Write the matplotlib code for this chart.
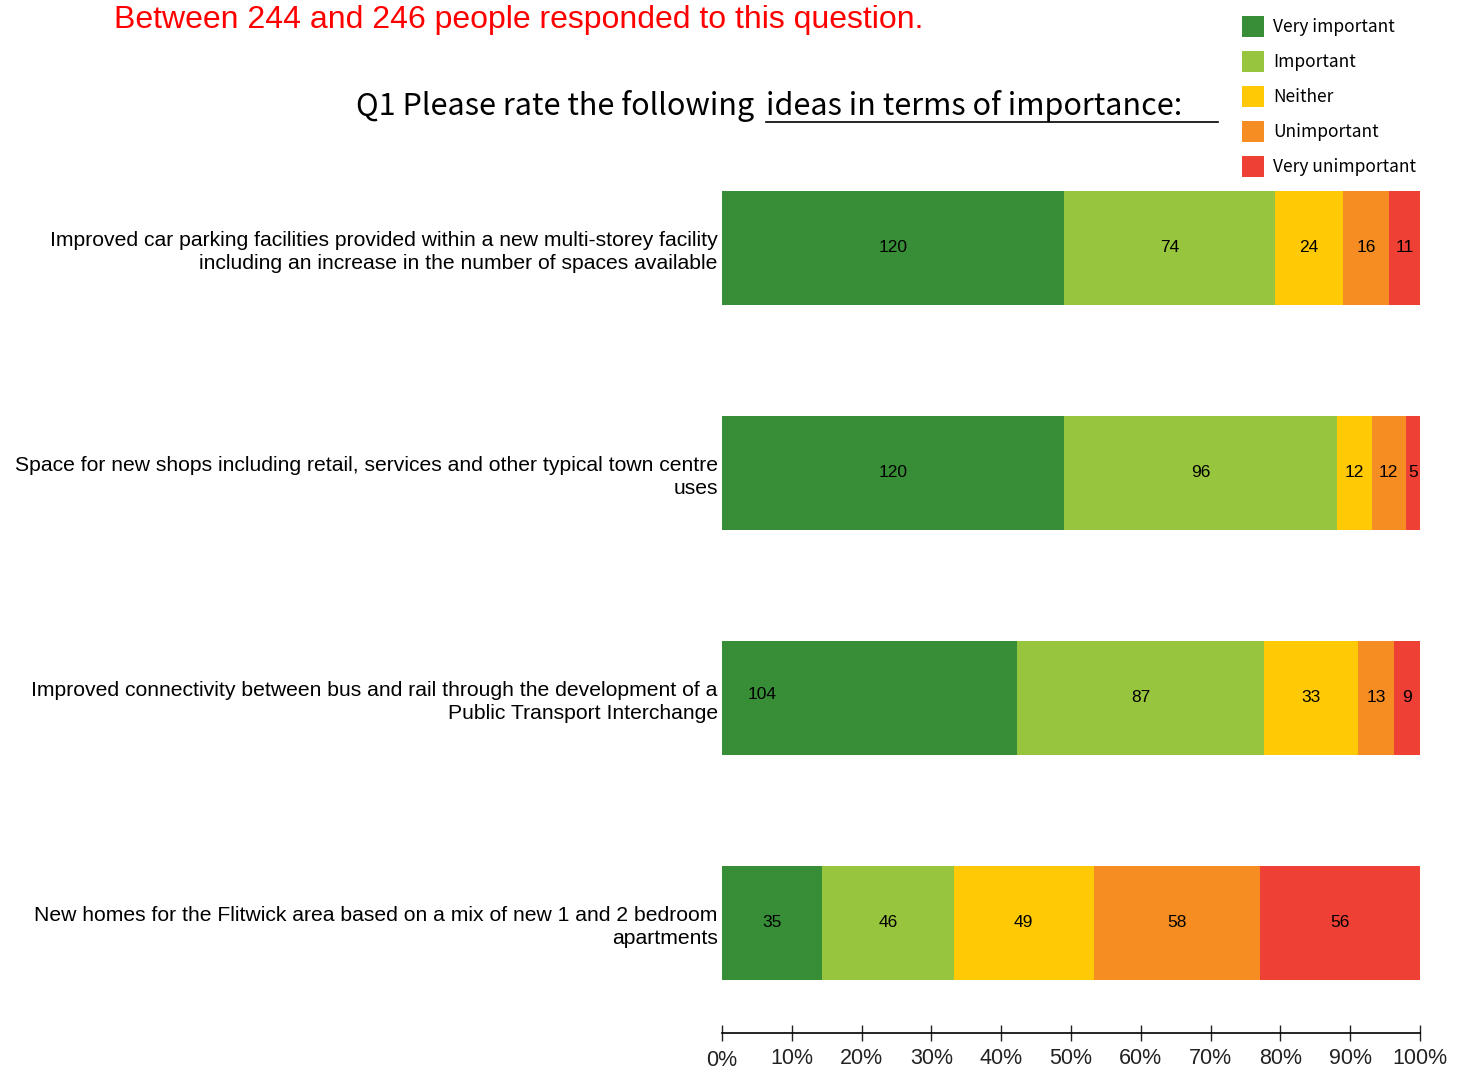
import numpy as np
import matplotlib.pyplot as plt
import matplotlib.transforms as mtransforms

# Survey responses, one row per idea
ideas = [
    "Improved car parking facilities provided within a new multi-storey facility\nincluding an increase in the number of spaces available",
    "Space for new shops including retail, services and other typical town centre\nuses",
    "Improved connectivity between bus and rail through the development of a\nPublic Transport Interchange",
    "New homes for the Flitwick area based on a mix of new 1 and 2 bedroom\napartments",
]
responses = ["Very important", "Important", "Neither", "Unimportant", "Very unimportant"]
very_important = [120, 120, 104, 35]
important = [74, 96, 87, 46]
neither = [24, 12, 33, 49]
unimportant = [16, 12, 13, 58]
very_unimportant = [11, 5, 9, 56]
tick_labels = ["0%", "10%", "20%", "30%", "40%", "50%", "60%", "70%", "80%", "90%", "100%"]

colors = ["#388e37", "#98c53e", "#ffca05", "#f68d22", "#ef4035"]

counts = np.array([very_important, important, neither, unimportant, very_unimportant], dtype=float)
shares = counts / counts.sum(axis=0)

W, H = 1466, 1068
fig = plt.figure(figsize=(W / 100, H / 100), dpi=100)
ax = fig.add_axes([722 / W, 1 - 1033 / H, (1420 - 722) / W, (1033 - 135.5) / H])

y = np.arange(len(ideas))
left = np.zeros(len(ideas))
for k, name in enumerate(responses):
    ax.barh(y, shares[k], left=left, height=0.507, color=colors[k], label=name)
    for i in range(len(ideas)):
        xc = left[i] + shares[k][i] / 2
        dy = 0.0
        if i == 2 and k == 0:
            xc = left[i] + 0.057
            dy = -0.015
        ax.text(xc, y[i] + dy, f"{int(counts[k][i])}", ha="center", va="center",
                fontsize=12.5, family="Liberation Sans", color="black")
    left += shares[k]

ax.set_xlim(0, 1)
ax.set_ylim(3.489, -0.5)
ax.set_yticks(y)
ax.set_yticklabels(ideas, fontsize=15.2, family="Liberation Sans", ha="right",
                   linespacing=1.25)
ax.tick_params(axis="y", length=0, pad=3)
ax.set_xticks(np.linspace(0, 1, 11))
ax.set_xticklabels(tick_labels, fontsize=15.5, family="Liberation Sans")
ax.tick_params(axis="x", direction="inout", length=11, width=1, pad=5, colors="#222222")
for lab in ax.get_xticklabels()[:1]:
    lab.set_transform(lab.get_transform() + mtransforms.ScaledTranslation(0, -1.5 / 72, fig.dpi_scale_trans))
for s in ["top", "right", "left"]:
    ax.spines[s].set_visible(False)
ax.spines["bottom"].set_linewidth(1.2)

# Header texts
fig.text(114 / W, 1 - 20 / H, "Between 244 and 246 people responded to this question.",
         color="#ff0000", fontsize=23, family="Liberation Sans", ha="left", va="center")

part1 = fig.text(356 / W, 1 - 106 / H, "Q1 Please rate the following",
                 fontsize=22, family="Noto Sans CJK KR", ha="left", va="center")
fig.canvas.draw()
r = fig.canvas.get_renderer()
bb = part1.get_window_extent(r)
part2 = fig.text((bb.x1 + 12) / W, 1 - 106 / H, "ideas in terms of importance:",
                 fontsize=22, family="Noto Sans CJK KR", ha="left", va="center")
fig.canvas.draw()
bb2 = part2.get_window_extent(r)
fig.add_artist(plt.Line2D([bb2.x0 / W, 1218 / W], [1 - 122 / H, 1 - 122 / H],
                          color="black", linewidth=1.2))

leg = fig.legend(loc="upper left", bbox_to_anchor=(1226 / W, 1 - 0 / H), frameon=False,
                 prop={"family": "Noto Sans CJK KR", "size": 12.5}, handlelength=1.3,
                 handleheight=1.5, labelspacing=0.8, handletextpad=0.5)

fig.savefig("out.png", dpi=100)
